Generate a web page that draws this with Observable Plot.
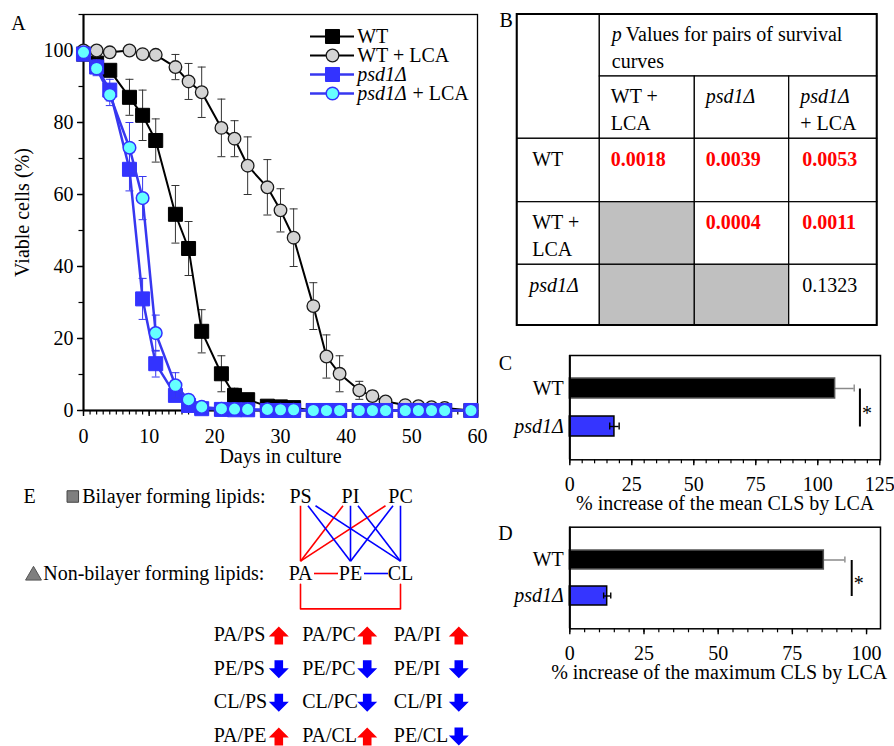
<!DOCTYPE html>
<html>
<head>
<meta charset="utf-8">
<script src="https://cdn.jsdelivr.net/npm/d3@7"></script>
<script src="https://cdn.jsdelivr.net/npm/@observablehq/plot@0.6"></script>
<style>
  html, body { margin: 0; padding: 0; background: #fff; }
  #fig { position: relative; width: 894px; height: 746px; overflow: hidden; background: #fff; }
</style>
</head>
<body>
<div id="fig"></div>
<script>
// ---------------- Panel A data ----------------
const seriesNames = ["WT", "WT + LCA", "psd1Δ", "psd1Δ + LCA"];
const days = [0, 2, 4, 7, 9, 11, 14, 16, 18, 21, 23, 25, 28, 30, 32, 35, 37, 39, 42, 44, 46, 49, 51, 53, 55, 59];
const wtViable        = [99, 96.5, 94.5, 87, 82, 75, 54.5, 45, 22, 10.2, 4.2, 3, 1.2, 1, 0.8, 0, 0, 0, 0, 0, 0, 0, 0, 0, 0, 0];
const wtViableErr     = [0, 1, 1.5, 5, 7, 6, 8, 7.5, 6, 5, 2, 1.5, 0.5, 0.5, 0.5, 0, 0, 0, 0, 0, 0, 0, 0, 0, 0, 0];
const wtLcaViable     = [100, 100, 99.5, 100, 99, 98.8, 95.4, 91.4, 88.4, 78.5, 75.5, 68, 62, 55.6, 48, 29, 15, 10.2, 5.6, 4, 2.5, 1.5, 1.2, 0.9, 0.7, 0];
const wtLcaViableErr  = [0, 0, 0.5, 0.5, 0.5, 0.5, 3.5, 5, 7, 8, 5, 8, 7.7, 6, 8, 6.5, 6, 5, 2.5, 1.5, 1, 0.5, 0.3, 0.3, 0.2, 0];
const psdViable       = [99, 95.4, 89, 67, 31, 13, 4.2, 1.4, 0.5, 0.3, 0.2, 0.2, 0, 0, 0, 0, 0, 0, 0, 0, 0, 0, 0, 0, 0, 0];
const psdViableErr    = [0, 2, 3, 6, 5.7, 3.7, 1.5, 0.5, 0.3, 0, 0, 0, 0, 0, 0, 0, 0, 0, 0, 0, 0, 0, 0, 0, 0, 0];
const psdLcaViable    = [99.5, 95, 87.7, 73, 59, 21.5, 7, 3, 1, 0.5, 0.4, 0.3, 0.3, 0.2, 0.2, 0, 0, 0, 0, 0, 0, 0, 0, 0, 0, 0];
const psdLcaViableErr = [0, 2, 3, 7, 6, 5, 3.5, 1, 0.5, 0.3, 0, 0, 0, 0, 0, 0, 0, 0, 0, 0, 0, 0, 0, 0, 0, 0];
const xMajorTicks = [0, 10, 20, 30, 40, 50, 60];
const yMajorTicks = [0, 20, 40, 60, 80, 100];

// ---------------- Panel B data ----------------
const tableTitle = ["p", "Values for pairs of survival", "curves"];
const tableCols = ["WT + LCA", "psd1Δ", "psd1Δ + LCA"];
const tableRows = ["WT", "WT + LCA", "psd1Δ"];
const pValues = [
  [0.0018, 0.0039, 0.0053],
  [null,   0.0004, 0.0011],
  [null,   null,   0.1323]
];

// ---------------- Panels C, D data ----------------
const barCats = ["WT", "psd1Δ"];
const meanIncrease = [107, 18];
const meanIncreaseErr = [7.7, 1.9];
const maxIncrease = [85.6, 12.6];
const maxIncreaseErr = [7.1, 1.2];
const meanTicks = [0, 25, 50, 75, 100, 125];
const maxTicks = [0, 25, 50, 75, 100];

// ---------------- Panel E data ----------------
const bilayer = ["PS", "PI", "PC"];
const nonBilayer = ["PA", "PE", "CL"];
const ratios = ["PA/PS", "PA/PC", "PA/PI", "PE/PS", "PE/PC", "PE/PI", "CL/PS", "CL/PC", "CL/PI", "PA/PE", "PA/CL", "PE/CL"];
const ratioChange = ["up", "up", "up", "down", "down", "down", "down", "down", "down", "up", "up", "down"];

// ---------------- helpers ----------------
const fig = document.getElementById("fig");
const FONT = '"Liberation Serif", "Times New Roman", serif';
const style = {fontFamily: FONT, fontSize: "20px", background: "transparent", overflow: "visible", color: "#000"};
function place(svg, left, top) {
  svg.style.position = "absolute";
  svg.style.left = left + "px";
  svg.style.top = top + "px";
  fig.appendChild(svg);
}
const hcap = {draw(ctx, size) { const w = Math.sqrt(size / Math.PI); ctx.moveTo(-w, 0); ctx.lineTo(w, 0); }};
const upArrow = {draw(ctx, size) {
  const k = Math.sqrt(size / Math.PI) / 10;
  ctx.moveTo(0, -9 * k); ctx.lineTo(10 * k, 1 * k); ctx.lineTo(4.3 * k, 1 * k); ctx.lineTo(4.3 * k, 9 * k);
  ctx.lineTo(-4.3 * k, 9 * k); ctx.lineTo(-4.3 * k, 1 * k); ctx.lineTo(-10 * k, 1 * k); ctx.closePath();
}};
const downArrow = {draw(ctx, size) {
  const k = Math.sqrt(size / Math.PI) / 10;
  ctx.moveTo(0, 9 * k); ctx.lineTo(10 * k, -1 * k); ctx.lineTo(4.3 * k, -1 * k); ctx.lineTo(4.3 * k, -9 * k);
  ctx.lineTo(-4.3 * k, -9 * k); ctx.lineTo(-4.3 * k, -1 * k); ctx.lineTo(-10 * k, -1 * k); ctx.closePath();
}};
const isItalicName = (s) => s.startsWith("psd");

// ---------------- Panel A ----------------
const seriesValues = [wtViable, wtLcaViable, psdViable, psdLcaViable];
const seriesErrors = [wtViableErr, wtLcaViableErr, psdViableErr, psdLcaViableErr];
const seriesLook = [
  {line: "#000", lw: 2, symbol: "square", r: 7.9, fill: "#000", stroke: "#000", sw: 1, err: "#333"},
  {line: "#000", lw: 2, symbol: "circle", r: 6.3, fill: "#d4d4d4", stroke: "#1a1a1a", sw: 1.3, err: "#333"},
  {line: "#3737f0", lw: 2.5, symbol: "square", r: 7.9, fill: "#3333ff", stroke: "#3333ff", sw: 1, err: "#3737f0"},
  {line: "#3737f0", lw: 2.5, symbol: "circle", r: 6.3, fill: "#66ffff", stroke: "#3333ff", sw: 1.5, err: "#3737f0"}
];
const seriesMarks = seriesNames.flatMap((name, si) => {
  const look = seriesLook[si];
  const rows = days.map((d, i) => ({day: d, v: seriesValues[si][i], e: seriesErrors[si][i]}));
  const withErr = rows.filter(r => r.e > 0);
  return [
    Plot.ruleX(withErr, {x: "day", y1: r => r.v - r.e, y2: r => r.v + r.e, stroke: look.err, strokeWidth: 1}),
    Plot.dot(withErr, {x: "day", y: r => r.v + r.e, symbol: hcap, r: 4, stroke: look.err, fill: "none", strokeWidth: 1}),
    Plot.dot(withErr, {x: "day", y: r => r.v - r.e, symbol: hcap, r: 4, stroke: look.err, fill: "none", strokeWidth: 1}),
    Plot.line(rows, {x: "day", y: "v", stroke: look.line, strokeWidth: look.lw}),
    Plot.dot(rows, {x: "day", y: "v", symbol: look.symbol, r: look.r, fill: look.fill, stroke: look.stroke, strokeWidth: look.sw})
  ];
});

const panelA = Plot.plot({
  width: 500, height: 470,
  marginLeft: 83, marginRight: 23, marginTop: 14, marginBottom: 60,
  x: {domain: [0, 60]},
  y: {domain: [0, 110]},
  style,
  marks: [
    Plot.axisX({ticks: d3.range(0, 61, 1), tickSize: 4.5, tickFormat: () => "", label: null, strokeWidth: 1.2}),
    Plot.axisX({ticks: xMajorTicks, tickSize: 6, tickPadding: 12, label: null, strokeWidth: 1.4}),
    Plot.axisY({ticks: d3.range(0, 111, 10), tickSize: 4.5, tickFormat: () => "", label: null, strokeWidth: 1.2}),
    Plot.axisY({ticks: yMajorTicks, tickSize: 6, tickPadding: 4, label: null, strokeWidth: 1.4}),
    Plot.frame({stroke: "#000", strokeWidth: 1.3}),
    Plot.ruleX([0], {stroke: "#000", strokeWidth: 2}),
    Plot.ruleY([0], {stroke: "#000", strokeWidth: 2}),
    ...seriesMarks,
    Plot.text(["Days in culture"], {frameAnchor: "bottom", dy: 46, lineAnchor: "middle"}),
    Plot.text(["Viable cells (%)"], {frameAnchor: "left", dx: -61, rotate: -90, textAnchor: "middle", lineAnchor: "middle"}),
    Plot.text(["A"], {frameAnchor: "top-left", dx: -65, dy: 9, textAnchor: "middle", lineAnchor: "middle"})
  ]
});
place(panelA, 0, 0);

// legend for A
const legendRows = seriesNames.map((name, si) => ({name, ...seriesLook[si]}));
const legendMarks = legendRows.flatMap(s => {
  const [strain, lca] = s.name.split(" + ");
  const marks = [
    Plot.ruleY([s], {y: "name", x1: 0, x2: 1, stroke: s.line, strokeWidth: s.lw}),
    Plot.dot([s], {y: "name", x: 0.5, symbol: s.symbol, r: s.r, fill: s.fill, stroke: s.stroke, strokeWidth: s.sw})
  ];
  if (!isItalicName(strain)) {
    marks.push(Plot.text([s], {y: "name", x: 1, text: "name", dx: 2.7, textAnchor: "start", lineAnchor: "middle"}));
  } else {
    marks.push(Plot.text([s], {y: "name", x: 1, text: () => strain, dx: 2.7, textAnchor: "start", lineAnchor: "middle", fontStyle: "italic"}));
    if (lca) marks.push(Plot.text([s], {y: "name", x: 1, text: () => "+ " + lca, dx: 58, textAnchor: "start", lineAnchor: "middle"}));
  }
  return marks;
});
const legendA = Plot.plot({
  width: 190, height: 120, margin: 0,
  x: {domain: [0, 1], range: [10, 54], axis: null},
  y: {type: "point", domain: seriesNames, range: [26.7, 102.7], axis: null},
  style,
  marks: legendMarks
});
place(legendA, 300, 0);

// ---------------- Panel B (table) ----------------
function labelLines(name) {
  const [strain, lca] = name.split(" + ");
  if (!lca) return [{t: strain, italic: isItalicName(strain), line: 0}];
  if (!isItalicName(strain)) return [{t: strain + " +", italic: false, line: 0}, {t: lca, italic: false, line: 1}];
  return [{t: strain, italic: true, line: 0}, {t: "+ " + lca, italic: false, line: 1}];
}
const cells = [];
const texts = [];
cells.push({x1: 0, x2: 1, y1: 0, y2: 2, fill: "#fff"});
cells.push({x1: 1, x2: 4, y1: 0, y2: 1, fill: "#fff"});
texts.push({x: 1, y: 0, t: tableTitle[0], italic: true, bold: false, line: 0, color: "#000", dx: 12});
texts.push({x: 1, y: 0, t: tableTitle[1], italic: false, bold: false, line: 0, color: "#000", dx: 26});
texts.push({x: 1, y: 0, t: tableTitle[2], italic: false, bold: false, line: 1, color: "#000", dx: 12});
tableCols.forEach((c, ci) => {
  cells.push({x1: ci + 1, x2: ci + 2, y1: 1, y2: 2, fill: "#fff"});
  labelLines(c).forEach(l => texts.push({x: ci + 1, y: 1, ...l, bold: false, color: "#000", dx: 11}));
});
tableRows.forEach((r, ri) => {
  cells.push({x1: 0, x2: 1, y1: ri + 2, y2: ri + 3, fill: "#fff"});
  labelLines(r).forEach(l => texts.push({x: 0, y: ri + 2, ...l, bold: false, color: "#000", dx: l.italic ? 12 : 15}));
  tableCols.forEach((c, ci) => {
    const p = pValues[ri][ci];
    cells.push({x1: ci + 1, x2: ci + 2, y1: ri + 2, y2: ri + 3, fill: p == null ? "#c0c0c0" : "#fff"});
    if (p != null) texts.push({x: ci + 1, y: ri + 2, t: d3.format(".4f")(p), italic: false, bold: p < 0.05, line: 0, color: p < 0.05 ? "#ff0000" : "#000", dx: ci === 2 ? 13 : 11});
  });
});
const textGroups = d3.groups(texts, d => [d.italic, d.bold, d.line, d.dx].join("|"));
const tableTextMarks = textGroups.map(([, arr]) => Plot.text(arr, {
  x: "x", y: "y", text: "t", fill: "color",
  dx: arr[0].dx, dy: 20.5 + arr[0].line * 27,
  textAnchor: "start", lineAnchor: "middle",
  fontStyle: arr[0].italic ? "italic" : "normal",
  fontWeight: arr[0].bold ? "bold" : "normal"
}));
const panelB = Plot.plot({
  width: 394, height: 330, margin: 0,
  x: {type: "linear", domain: [0, 1, 2, 3, 4], range: [16.7, 99.3, 194.3, 288.7, 376.7], axis: null},
  y: {type: "linear", domain: [0, 1, 2, 3, 4, 5], range: [14, 76, 138.3, 201.7, 264.3, 325], axis: null},
  color: {type: "identity"},
  style,
  marks: [
    Plot.rect(cells, {x1: "x1", x2: "x2", y1: "y1", y2: "y2", fill: "fill", stroke: "#000", strokeWidth: 1.2}),
    Plot.rect([{x1: 0, x2: 4, y1: 0, y2: 5}], {x1: "x1", x2: "x2", y1: "y1", y2: "y2", fill: "none", stroke: "#000", strokeWidth: 2}),
    ...tableTextMarks,
    Plot.text(["B"], {frameAnchor: "top-left", dx: -1, dy: 20, textAnchor: "start", lineAnchor: "middle"})
  ]
});
place(panelB, 500, 0);

// ---------------- Panels C and D ----------------
const barLook = {"WT": {fill: "#000", stroke: "#555", err: "#8a8a8a"}, "psd1Δ": {fill: "#3535ff", stroke: "#000", err: "#000"}};
function barPanel({values, errors, xmax, ticks, label, letter, height, marginTop, marginBottom, padIn, padOut, labelDx, letterDy}) {
  const rows = barCats.map((c, i) => ({c, v: values[i], e: errors[i]}));
  const bracketX = d3.max(rows, d => d.v + d.e) + 2.3;
  const errMarks = (data) => data.flatMap(d => [
    Plot.ruleY([d], {y: "c", x1: r => r.v - r.e, x2: r => r.v + r.e, stroke: barLook[d.c].err, strokeWidth: 1.4}),
    Plot.tickX([d], {y: "c", x: r => r.v + r.e, stroke: barLook[d.c].err, strokeWidth: 1.4, insetTop: 6.5, insetBottom: 6.5}),
    Plot.tickX([d], {y: "c", x: r => r.v - r.e, stroke: barLook[d.c].err, strokeWidth: 1.4, insetTop: 6.5, insetBottom: 6.5})
  ]);
  return Plot.plot({
    width: 394, height, marginLeft: 69.3, marginRight: 14, marginTop, marginBottom,
    x: {domain: [0, xmax]},
    y: {domain: barCats, paddingInner: padIn, paddingOuter: padOut, axis: null},
    color: {type: "identity"},
    style,
    marks: [
      Plot.axisX({ticks: d3.range(0, xmax + 0.001, 5), tickSize: 4, tickFormat: () => "", label: null, strokeWidth: 1.2}),
      Plot.axisX({ticks, tickSize: 6, tickPadding: 11, label: null, strokeWidth: 1.4}),
      ...errMarks(rows.filter(d => d.c === "WT")),
      Plot.barX(rows, {x: "v", y: "c", fill: d => barLook[d.c].fill, stroke: d => barLook[d.c].stroke, strokeWidth: 1.5}),
      ...errMarks(rows.filter(d => d.c !== "WT")),
      Plot.frame({stroke: "#000", strokeWidth: 1.5}),
      Plot.ruleX([0], {stroke: "#000", strokeWidth: 2}),
      Plot.link([rows], {x1: bracketX, x2: bracketX, y1: () => barCats[0], y2: () => barCats[1], stroke: "#000", strokeWidth: 2}),
      Plot.text(["*"], {x: bracketX, dx: 7, dy: 6, frameAnchor: "middle", textAnchor: "middle"}),
      Plot.text(rows.filter(d => !isItalicName(d.c)), {y: "c", text: "c", frameAnchor: "left", dx: -6, textAnchor: "end", lineAnchor: "middle"}),
      Plot.text(rows.filter(d => isItalicName(d.c)), {y: "c", text: "c", frameAnchor: "left", dx: -6, textAnchor: "end", lineAnchor: "middle", fontStyle: "italic"}),
      Plot.text([label], {frameAnchor: "bottom", dy: 44, dx: labelDx, lineAnchor: "middle"}),
      Plot.text([letter], {frameAnchor: "top-left", dx: -64.3, dy: letterDy, textAnchor: "middle", lineAnchor: "middle"})
    ]
  });
}
place(barPanel({values: meanIncrease, errors: meanIncreaseErr, xmax: 125.3, ticks: meanTicks,
  label: "% increase of the mean CLS by LCA", letter: "C", height: 190, marginTop: 25, marginBottom: 60.7,
  padIn: 0.474, padOut: 0.605, labelDx: 0, letterDy: 8}), 500, 330);
place(barPanel({values: maxIncrease, errors: maxIncreaseErr, xmax: 104.7, ticks: maxTicks,
  label: "% increase of the maximum CLS by LCA", letter: "D", height: 190, marginTop: 16.7, marginBottom: 71.7,
  padIn: 0.479, padOut: 0.63, labelDx: -6, letterDy: 6.3}), 500, 510);

// ---------------- Panel E (diagram) ----------------
const changeColor = {up: "#ff0000", down: "#0000ff"};
const nodes = [...bilayer.map((n, i) => ({n, col: i, row: 0})), ...nonBilayer.map((n, i) => ({n, col: i, row: 1}))];
const nodePos = Object.fromEntries(nodes.map(d => [d.n, d]));
const crossEdges = [], sideEdges = [], bracketEdges = [];
ratios.forEach((r, i) => {
  const [num, den] = r.split("/");
  const a = nodePos[num], b = nodePos[den], color = changeColor[ratioChange[i]];
  if (a.row !== b.row) {
    const top = a.row === 0 ? a : b, bot = a.row === 0 ? b : a;
    crossEdges.push({x1: top.col + 0.15 * (bot.col - top.col), y1: 0.12, x2: bot.col, y2: 0.84, color});
  } else if (Math.abs(a.col - b.col) === 1) {
    const l = Math.min(a.col, b.col);
    sideEdges.push({x1: l + 0.27, x2: l + 0.75, y: a.row, color});
  } else {
    bracketEdges.push({pts: [[a.col, 1.14], [a.col, 1.46], [b.col, 1.46], [b.col, 1.14]], color});
  }
});
const panelE = Plot.plot({
  width: 500, height: 150, margin: 0,
  x: {domain: [0, 2], range: [300, 400], axis: null},
  y: {domain: [0, 1], range: [26, 103], axis: null},
  color: {type: "identity"},
  style,
  marks: [
    Plot.link(crossEdges, {x1: "x1", y1: "y1", x2: "x2", y2: "y2", stroke: "color", strokeWidth: 1.6}),
    Plot.link(sideEdges, {x1: "x1", x2: "x2", y1: "y", y2: "y", stroke: "color", strokeWidth: 1.6}),
    ...bracketEdges.map(b => Plot.line(b.pts, {stroke: b.color, strokeWidth: 1.6})),
    Plot.text(nodes, {x: "col", y: "row", text: "n", lineAnchor: "middle"}),
    Plot.text(["E"], {y: 0, frameAnchor: "left", dx: 29, textAnchor: "middle", lineAnchor: "middle"}),
    Plot.dot([0], {y: 0, frameAnchor: "left", dx: 72.3, symbol: "square", r: 6.5, fill: "#7f7f7f", stroke: "#444", strokeWidth: 1}),
    Plot.text(["Bilayer forming lipids:"], {y: 0, frameAnchor: "left", dx: 81.7, textAnchor: "start", lineAnchor: "middle"}),
    Plot.dot([0], {y: 1, frameAnchor: "left", dx: 33, dy: 2, symbol: "triangle", r: 5.9, fill: "#7f7f7f", stroke: "#555", strokeWidth: 1}),
    Plot.text(["Non-bilayer forming lipids:"], {y: 1, frameAnchor: "left", dx: 42.7, textAnchor: "start", lineAnchor: "middle"})
  ]
});
place(panelE, 0, 470);

const ratioItems = ratios.map((r, i) => ({r, col: i % 3, row: Math.floor(i / 3), change: ratioChange[i], color: changeColor[ratioChange[i]]}));
const panelGrid = Plot.plot({
  width: 500, height: 146, margin: 0,
  x: {type: "linear", domain: [0, 1, 2], range: [213.3, 301.7, 393.3], axis: null},
  y: {domain: [0, 3], range: [34, 135], axis: null},
  color: {type: "identity"},
  style,
  marks: [
    Plot.text(ratioItems, {x: "col", y: "row", text: "r", textAnchor: "start", lineAnchor: "middle"}),
    Plot.dot(ratioItems.filter(d => d.change === "up"), {x: "col", y: "row", dx: 65, dy: 1, symbol: upArrow, r: 10, fill: "color", stroke: "none"}),
    Plot.dot(ratioItems.filter(d => d.change === "down"), {x: "col", y: "row", dx: 65, dy: 1, symbol: downArrow, r: 10, fill: "color", stroke: "none"})
  ]
});
place(panelGrid, 0, 600);
</script>
</body>
</html>
